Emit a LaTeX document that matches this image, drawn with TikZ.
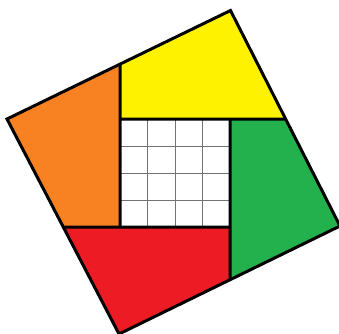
\documentclass[tikz,border=0pt]{standalone}
\usetikzlibrary{calc}
\definecolor{pieceorange}{RGB}{248,130,34}
\definecolor{pieceyellow}{RGB}{255,242,0}
\definecolor{piecegreen}{RGB}{34,177,76}
\definecolor{piecered}{RGB}{237,28,36}
\tikzset{
  piece/.style= {
    fill = #1,
    draw = none
  },
  cutline/.style= {
    draw = black,
    line width = 3pt,
    line join = miter
  },
  gridline/.style= {
    draw = black!55,
    line width = 1pt
  }
}

\begin{document}
\begin{tikzpicture}[x=1pt,y=-1pt]
  \useasboundingbox (0,0) rectangle (339,333);
  \clip (0,0) rectangle (339,333);

  % tilted outer square
  \coordinate (tp) at (230.5,10.5);
  \coordinate (rgt) at (340,226);
  \coordinate (btm) at (119,334);
  \coordinate (lft) at (7,119);

  % inner square
  \coordinate (a) at (120,119);
  \coordinate (b) at (230,119);
  \coordinate (c) at (230,227);
  \coordinate (d) at (120,227);

  % where the cuts meet the outer edges
  \coordinate (mlt) at (intersection of lft--tp and a--d);
  \coordinate (mtr) at (intersection of tp--rgt and a--b);
  \coordinate (mrb) at (intersection of rgt--btm and b--c);
  \coordinate (mbl) at (intersection of btm--lft and d--c);

  \fill[piece=pieceorange] (lft) -- (mlt) -- (a) -- (d) -- (mbl) -- cycle;
  \fill[piece=pieceyellow] (mlt) -- (tp) -- (mtr) -- (b) -- (a) -- cycle;
  \fill[piece=piecegreen] (mtr) -- (rgt) -- (mrb) -- (c) -- (b) -- cycle;
  \fill[piece=piecered] (mbl) -- (d) -- (c) -- (mrb) -- (btm) -- cycle;
  \fill[white] (a) rectangle (c);

  \foreach \i in {1,2,3} {
    \draw[gridline] ($(a)!\i/4!(b)$) -- ($(d)!\i/4!(c)$);
    \draw[gridline] ($(a)!\i/4!(d)$) -- ($(b)!\i/4!(c)$);
  }

  \draw[cutline] (tp) -- (rgt) -- (btm) -- (lft) -- cycle;
  \draw[cutline] (mlt) -- (d);
  \draw[cutline] (a) -- (mtr);
  \draw[cutline] (b) -- (mrb);
  \draw[cutline] (mbl) -- (c);

\end{tikzpicture}
\end{document}
